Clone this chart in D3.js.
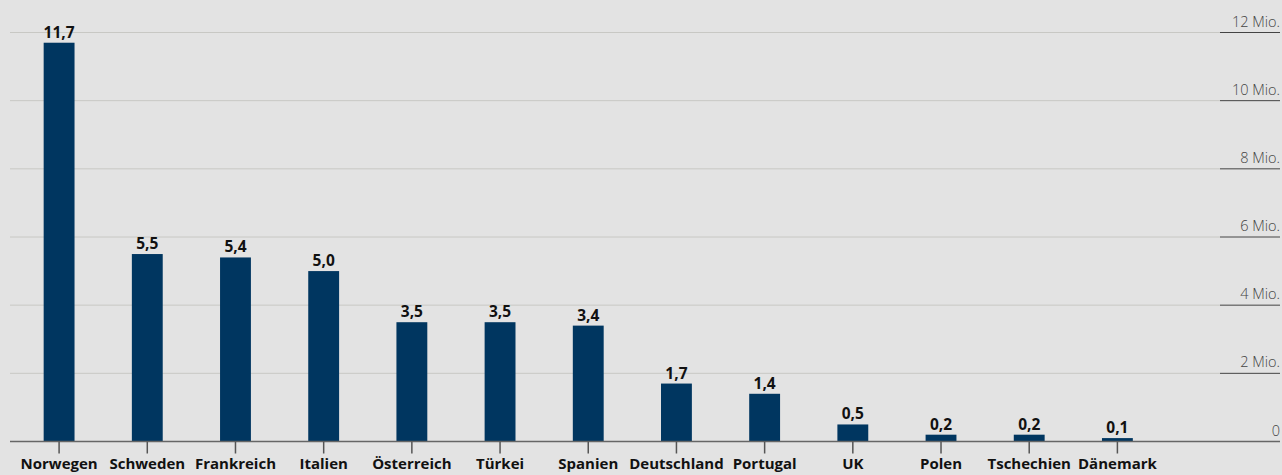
<!DOCTYPE html>
<html><head><meta charset="utf-8">
<script src="https://cdn.jsdelivr.net/npm/d3@7"></script>
<style>
html,body{margin:0;padding:0;background:#e3e3e3;overflow:hidden}
svg{display:block}
</style></head><body>
<svg id="c" width="1282" height="475"></svg>
<script>
const categories = ["Norwegen","Schweden","Frankreich","Italien","Österreich","Türkei","Spanien","Deutschland","Portugal","UK","Polen","Tschechien","Dänemark"];
const values = [11.7,5.5,5.4,5.0,3.5,3.5,3.4,1.7,1.4,0.5,0.2,0.2,0.1];
const valueLabels = ["11,7","5,5","5,4","5,0","3,5","3,5","3,4","1,7","1,4","0,5","0,2","0,2","0,1"];
const yTicks = [0,2,4,6,8,10,12];
const yTickLabels = ["0","2 Mio.","4 Mio.","6 Mio.","8 Mio.","10 Mio.","12 Mio."];

const svg = d3.select("#c");
const x = d3.scaleBand().domain(categories).range([15, 1161.5]).paddingInner(0.65).paddingOuter(0.325);
const y = d3.scaleLinear().domain([0,12]).range([441.5, 32.5]);
const font = "'Open Sans', 'Noto Sans', sans-serif";

const g = svg.append("g");
yTicks.forEach((t,i)=>{
  if(t===0) return;
  g.append("line").attr("x1",10).attr("x2",1220).attr("y1",y(t)).attr("y2",y(t))
    .attr("stroke","#c8c8c4").attr("stroke-width",1);
  g.append("line").attr("x1",1220).attr("x2",1280).attr("y1",y(t)).attr("y2",y(t))
    .attr("stroke","#444").attr("stroke-width",1);
});
yTicks.forEach((t,i)=>{
  g.append("text").attr("x",1280).attr("y",y(t)-6).attr("text-anchor","end")
    .attr("font-family",font).attr("font-weight",300).attr("font-size",14.5)
    .attr("fill","#444").text(yTickLabels[i]);
});

svg.append("g").selectAll("rect").data(values).join("rect")
  .attr("x",(d,i)=>x(categories[i])).attr("width",x.bandwidth())
  .attr("y",d=>y(d)).attr("height",d=>y(0)-y(d)).attr("fill","#003660");

svg.append("g").selectAll("text").data(values).join("text")
  .attr("x",(d,i)=>x(categories[i])+x.bandwidth()/2).attr("y",d=>y(d)-5)
  .attr("text-anchor","middle").attr("font-family",font).attr("font-weight",700)
  .attr("font-size",15.5).attr("fill","#111").text((d,i)=>valueLabels[i]);

svg.append("line").attr("x1",10).attr("x2",1280).attr("y1",y(0)).attr("y2",y(0))
  .attr("stroke","#666").attr("stroke-width",1.5);

const xa = svg.append("g").attr("transform",`translate(0,${y(0)})`)
  .call(d3.axisBottom(x).tickSize(12).tickPadding(5));
xa.select(".domain").remove();
xa.selectAll(".tick line").attr("stroke","#555").attr("stroke-width",1.5);
xa.selectAll(".tick text").attr("font-family",font).attr("font-weight",700)
  .attr("font-size",15).attr("fill","#111");
</script>
</body></html>
